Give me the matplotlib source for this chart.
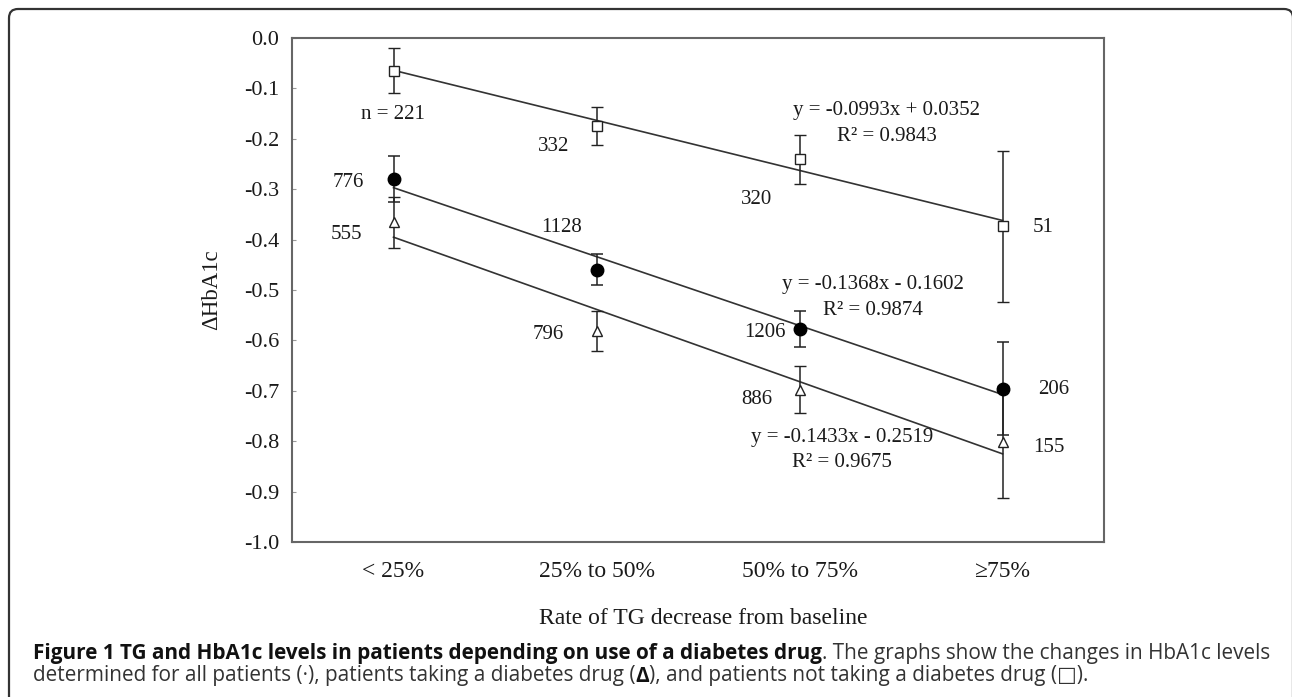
import matplotlib
matplotlib.use("Agg")
import matplotlib.pyplot as plt
import matplotlib.font_manager as fm
from matplotlib.patches import FancyBboxPatch
from matplotlib.transforms import IdentityTransform
import numpy as np

# ---------------- data ----------------
categories = ["< 25%", "25% to 50%", "50% to 75%", "\u226575%"]

# all patients (filled circles)
all_mean = [-0.280, -0.460, -0.577, -0.696]
all_err = [0.045, 0.031, 0.036, 0.092]
all_n = ["776", "1128", "1206", "206"]

# patients taking a diabetes drug (open triangles)
drug_mean = [-0.366, -0.581, -0.698, -0.801]
drug_err = [0.050, 0.040, 0.047, 0.111]
drug_n = ["555", "796", "886", "155"]

# patients not taking a diabetes drug (open squares)
nodrug_mean = [-0.065, -0.175, -0.241, -0.374]
nodrug_err = [0.045, 0.038, 0.048, 0.149]
nodrug_n = ["n = 221", "332", "320", "51"]

# linear trend lines (slope, intercept, R^2)
trend_all = (-0.1368, -0.1602, 0.9874)
trend_drug = (-0.1433, -0.2519, 0.9675)
trend_nodrug = (-0.0993, 0.0352, 0.9843)

yticks = [0.0, -0.1, -0.2, -0.3, -0.4, -0.5, -0.6, -0.7, -0.8, -0.9, -1.0]

# ---------------- figure ----------------
W, H = 1292, 697
fig = plt.figure(figsize=(W / 100, H / 100), dpi=100)
serif = ["Liberation Serif", "DejaVu Serif"]

def px(x0, y0, x1, y1):
    return [x0 / W, 1 - y1 / H, (x1 - x0) / W, (y1 - y0) / H]

ax = fig.add_axes(px(292, 38, 1104, 542))
x = np.arange(1, len(categories) + 1)
dark = "#222222"

for sp in ax.spines.values():
    sp.set_color("#666666")
    sp.set_linewidth(1.5)

# trend lines
for slope, icpt, _ in (trend_all, trend_drug, trend_nodrug):
    xs = np.array([x[0], x[-1]])
    ax.plot(xs, slope * xs + icpt, color="#333333", lw=1.2, zorder=2)

eb = dict(ecolor=dark, elinewidth=1.1, capsize=4.5, capthick=1.1, linestyle="none", zorder=3)
ax.errorbar(x, nodrug_mean, yerr=nodrug_err, marker="s", ms=7, mfc="white", mec=dark, mew=1.0, **eb)
ax.errorbar(x, drug_mean, yerr=drug_err, marker="^", ms=7.5, mfc="white", mec=dark, mew=1.0, **eb)
ax.errorbar(x, all_mean, yerr=all_err, marker="o", ms=9, mfc="black", mec="black", **eb)

ax.set_xlim(0.5, 4.5)
ax.set_ylim(-1.0, 0.0)
ax.set_yticks(yticks)
ax.set_yticklabels([f"{v:.1f}" for v in yticks], family=serif, fontsize=16)
ax.set_xticks(x)
ax.set_xticklabels(categories, family=serif, fontsize=17)
ax.tick_params(axis="y", direction="in", length=3, width=0.8, color="#999999", pad=9)
ax.tick_params(axis="x", length=0, pad=14)
for lab in ax.get_yticklabels() + ax.get_xticklabels():
    lab.set_color("#1a1a1a")

# sample-size annotations
ann_fs = 15
n_pos_nodrug = [(0.995, -0.151), (1.79, -0.216), (2.79, -0.321), (4.20, -0.375)]
n_pos_all = [(0.775, -0.287), (1.83, -0.375), (2.83, -0.585), (4.25, -0.698)]
n_pos_drug = [(0.77, -0.389), (1.76, -0.589), (2.79, -0.718), (4.23, -0.813)]
for labels, pos in ((nodrug_n, n_pos_nodrug), (all_n, n_pos_all), (drug_n, n_pos_drug)):
    for t, (xx, yy) in zip(labels, pos):
        ax.text(xx, yy, t, ha="center", va="center", fontsize=ann_fs, family=serif, color="#1a1a1a")

def eq_text(tr):
    slope, icpt, r2 = tr
    sign = "+" if icpt >= 0 else "-"
    return f"y = {slope:.4f}x {sign} {abs(icpt):.4f}", f"R\u00b2 = {r2:.4f}"

eq_pos = [(trend_nodrug, 3.43, -0.143, -0.196),
          (trend_all, 3.36, -0.490, -0.540),
          (trend_drug, 3.21, -0.792, -0.843)]
for tr, xx, y1, y2 in eq_pos:
    l1, l2 = eq_text(tr)
    ax.text(xx, y1, l1, ha="center", va="center", fontsize=ann_fs, family=serif, color="#1a1a1a")
    ax.text(xx, y2, l2, ha="center", va="center", fontsize=ann_fs, family=serif, color="#1a1a1a")

# axis labels
fig.text(703 / W, 1 - 618 / H, "Rate of TG decrease from baseline", ha="center", va="center",
         fontsize=17, family=serif, color="#1a1a1a")
fig.text(212 / W, 1 - 290 / H, "\u0394HbA1c", ha="center", va="center", rotation=90,
         fontsize=16.5, family=serif, color="#1a1a1a")

# frame in pixel coordinates (right and bottom edges lie just outside the image)
frame = FancyBboxPatch((9, -60), 1284, (H - 9) + 60,
                       boxstyle="round,pad=0,rounding_size=9",
                       transform=IdentityTransform(), fill=False, edgecolor="#333333",
                       linewidth=1.6, clip_on=False)
fig.patches.append(frame)

# caption
names = {f.name for f in fm.fontManager.ttflist}
cap_font = "Liberation Sans Narrow" if "Liberation Sans Narrow" in names else "Open Sans"
cap_fs = 12.5
renderer = fig.canvas.get_renderer()

def run_line(runs, x0, y, fs):
    xcur = x0
    arts = []
    for txt, wt in runs:
        t = fig.text(xcur / W, 1 - y / H, txt, ha="left", va="center", fontsize=fs,
                     family=[cap_font, "DejaVu Sans"], weight=wt,
                     color="#111111" if wt == "bold" else "#333333")
        bb = t.get_window_extent(renderer)
        xcur += bb.width
        arts.append(t)
    return xcur, arts

line1 = [("Figure 1 TG and HbA1c levels in patients depending on use of a diabetes drug", "bold"),
         (". The graphs show the changes in HbA1c levels", "normal")]
line2 = [("determined for all patients (\u00b7), patients taking a diabetes drug (", "normal"),
         ("\u0394", "bold"),
         ("), and patients not taking a diabetes drug (\u25a1).", "normal")]

# fit caption font size so line 1 spans the caption width
end, arts = run_line(line1, 33, 654, cap_fs)
scale = (1277 - 33) / (end - 33)
for a in arts:
    a.remove()
cap_fs *= scale
run_line(line1, 33, 654, cap_fs)
run_line(line2, 33, 676, cap_fs)

fig.savefig("out.png", dpi=100)
